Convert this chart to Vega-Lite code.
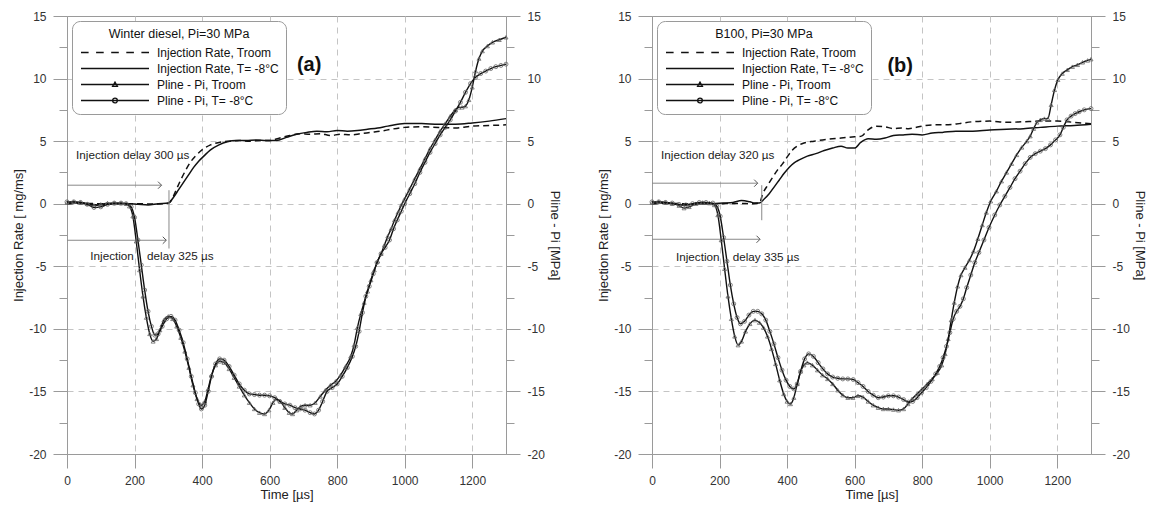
{
"$schema": "https://vega.github.io/schema/vega-lite/v6.json",
"background": "white",
"padding": {"left": 12, "top": 9, "right": 4, "bottom": 2},
"spacing": 36,
"config": {
  "view": {"stroke": "#9a9a9a"},
  "axis": {"domainColor": "#9a9a9a", "tickColor": "#9a9a9a", "gridColor": "#c4c4c4", "gridDash": [6, 5], "labelFont": "Liberation Sans", "labelFontSize": 12, "labelColor": "#333333", "titleFont": "Liberation Sans", "titleFontSize": 13, "titleFontWeight": "normal", "titleColor": "#222222", "labelPadding": 7, "titlePadding": 3, "labelFlush": false, "labelOverlap": false},
  "text": {"font": "Liberation Sans"}
},
"resolve": {"scale": {"shape": "independent"}, "legend": {"shape": "independent"}},
"datasets": {
  "leg": [{"s": "Injection Rate, Troom"}, {"s": "Injection Rate, T= -8°C"}, {"s": "Pline - Pi, Troom"}, {"s": "Pline - Pi, T= -8°C"}],
  "a_arr": [{"t": 0, "t2": 280, "v": 1.48}, {"t": 0, "t2": 294, "v": -2.92}],
  "a_vl": [{"t": 302, "v": 1.08, "v2": -3.58}],
  "a_txt": [{"t": 27, "v": 3.87, "label": "Injection delay 300 µs"}, {"t": 69, "v": -4.19, "label": "Injection"}, {"t": 237, "v": -4.19, "label": "delay 325 µs"}],
  "a_lab": [{"t": 717, "v": 11.06, "label": "(a)"}],
  "b_arr": [{"t": 0, "t2": 313, "v": 1.64}, {"t": 0, "t2": 320, "v": -2.84}],
  "b_vl": [{"t": 325, "v": 1.48, "v2": -1.32}],
  "b_txt": [{"t": 27, "v": 3.87, "label": "Injection delay 320 µs"}, {"t": 71, "v": -4.27, "label": "Injection"}, {"t": 239, "v": -4.27, "label": "delay 335 µs"}],
  "b_lab": [{"t": 735, "v": 11.0, "label": "(b)"}],
  "a_rr": [{"t":0,"v":0},{"t":50,"v":0.02},{"t":100,"v":0},{"t":150,"v":0},{"t":200,"v":0},{"t":250,"v":-0.02},{"t":290,"v":0},{"t":300,"v":0.05},{"t":310,"v":0.3},{"t":320,"v":0.9},{"t":335,"v":1.8},{"t":350,"v":2.6},{"t":365,"v":3.3},{"t":380,"v":3.8},{"t":400,"v":4.3},{"t":425,"v":4.7},{"t":450,"v":4.9},{"t":480,"v":5.0},{"t":510,"v":5.05},{"t":540,"v":5.0},{"t":570,"v":5.05},{"t":600,"v":5.05},{"t":630,"v":5.25},{"t":660,"v":5.45},{"t":690,"v":5.6},{"t":720,"v":5.55},{"t":750,"v":5.6},{"t":780,"v":5.45},{"t":810,"v":5.55},{"t":840,"v":5.5},{"t":870,"v":5.6},{"t":900,"v":5.7},{"t":930,"v":5.8},{"t":960,"v":5.95},{"t":1000,"v":6.1},{"t":1050,"v":6.15},{"t":1100,"v":6.1},{"t":1150,"v":6.05},{"t":1200,"v":6.2},{"t":1250,"v":6.25},{"t":1300,"v":6.3}],
  "a_rc": [{"t":0,"v":0},{"t":30,"v":0.05},{"t":60,"v":0},{"t":90,"v":-0.1},{"t":120,"v":-0.05},{"t":150,"v":0},{"t":180,"v":0},{"t":210,"v":-0.05},{"t":240,"v":-0.1},{"t":270,"v":0},{"t":300,"v":0.05},{"t":315,"v":0.5},{"t":330,"v":1.1},{"t":345,"v":1.7},{"t":360,"v":2.3},{"t":375,"v":2.9},{"t":390,"v":3.4},{"t":405,"v":3.8},{"t":425,"v":4.3},{"t":450,"v":4.7},{"t":475,"v":4.95},{"t":500,"v":5.05},{"t":530,"v":5.05},{"t":560,"v":5.1},{"t":590,"v":5.05},{"t":620,"v":5.05},{"t":650,"v":5.3},{"t":680,"v":5.55},{"t":710,"v":5.7},{"t":740,"v":5.8},{"t":770,"v":5.75},{"t":800,"v":5.85},{"t":830,"v":5.8},{"t":860,"v":5.85},{"t":890,"v":5.95},{"t":920,"v":6.05},{"t":950,"v":6.2},{"t":1000,"v":6.4},{"t":1050,"v":6.4},{"t":1100,"v":6.35},{"t":1150,"v":6.35},{"t":1200,"v":6.45},{"t":1250,"v":6.6},{"t":1300,"v":6.8}],
  "a_pr": [{"t":0,"v":0.1},{"t":20,"v":0.15},{"t":40,"v":0.1},{"t":60,"v":0.0},{"t":80,"v":-0.15},{"t":100,"v":-0.05},{"t":120,"v":0.05},{"t":140,"v":0.05},{"t":160,"v":0.05},{"t":175,"v":0.0},{"t":185,"v":-0.2},{"t":195,"v":-1.0},{"t":205,"v":-3.0},{"t":215,"v":-5.3},{"t":225,"v":-7.4},{"t":235,"v":-9.1},{"t":245,"v":-10.4},{"t":255,"v":-11.0},{"t":265,"v":-10.8},{"t":275,"v":-10.1},{"t":287,"v":-9.3},{"t":300,"v":-9.0},{"t":313,"v":-9.2},{"t":325,"v":-9.8},{"t":337,"v":-10.7},{"t":349,"v":-11.8},{"t":361,"v":-13.1},{"t":373,"v":-14.5},{"t":385,"v":-15.6},{"t":397,"v":-16.1},{"t":408,"v":-15.8},{"t":418,"v":-14.8},{"t":428,"v":-13.7},{"t":440,"v":-12.9},{"t":452,"v":-12.6},{"t":465,"v":-12.7},{"t":480,"v":-13.2},{"t":495,"v":-13.9},{"t":510,"v":-14.6},{"t":525,"v":-15.3},{"t":540,"v":-15.9},{"t":555,"v":-16.4},{"t":570,"v":-16.7},{"t":585,"v":-16.8},{"t":598,"v":-16.5},{"t":610,"v":-15.9},{"t":620,"v":-15.6},{"t":632,"v":-15.8},{"t":645,"v":-16.3},{"t":658,"v":-16.7},{"t":668,"v":-16.8},{"t":680,"v":-16.5},{"t":692,"v":-16.2},{"t":705,"v":-16.1},{"t":720,"v":-16.1},{"t":735,"v":-15.9},{"t":750,"v":-15.4},{"t":765,"v":-14.9},{"t":780,"v":-14.5},{"t":795,"v":-14.2},{"t":810,"v":-13.7},{"t":825,"v":-13.0},{"t":840,"v":-12.2},{"t":850,"v":-11.3},{"t":860,"v":-9.9},{"t":870,"v":-8.8},{"t":880,"v":-7.9},{"t":890,"v":-7.0},{"t":900,"v":-6.1},{"t":910,"v":-5.3},{"t":920,"v":-4.6},{"t":930,"v":-4.0},{"t":940,"v":-3.3},{"t":950,"v":-2.6},{"t":960,"v":-2.0},{"t":970,"v":-1.3},{"t":980,"v":-0.7},{"t":990,"v":-0.1},{"t":1000,"v":0.4},{"t":1015,"v":1.2},{"t":1030,"v":2.0},{"t":1045,"v":2.8},{"t":1060,"v":3.6},{"t":1075,"v":4.4},{"t":1090,"v":5.1},{"t":1105,"v":5.8},{"t":1120,"v":6.4},{"t":1135,"v":7.0},{"t":1150,"v":7.5},{"t":1160,"v":7.7},{"t":1170,"v":7.7},{"t":1180,"v":7.8},{"t":1190,"v":8.3},{"t":1200,"v":9.3},{"t":1210,"v":10.6},{"t":1220,"v":11.6},{"t":1230,"v":12.2},{"t":1245,"v":12.6},{"t":1260,"v":12.9},{"t":1280,"v":13.1},{"t":1300,"v":13.3}],
  "a_pc": [{"t":0,"v":0.15},{"t":20,"v":0.15},{"t":40,"v":0.1},{"t":60,"v":-0.05},{"t":80,"v":-0.3},{"t":100,"v":-0.25},{"t":120,"v":-0.05},{"t":140,"v":0.05},{"t":160,"v":0.05},{"t":175,"v":0.0},{"t":190,"v":-0.25},{"t":200,"v":-1.1},{"t":210,"v":-2.9},{"t":220,"v":-4.9},{"t":230,"v":-6.9},{"t":240,"v":-8.6},{"t":250,"v":-9.8},{"t":260,"v":-10.5},{"t":270,"v":-10.4},{"t":282,"v":-9.8},{"t":295,"v":-9.2},{"t":308,"v":-9.0},{"t":320,"v":-9.3},{"t":332,"v":-10.1},{"t":344,"v":-11.1},{"t":356,"v":-12.4},{"t":368,"v":-13.8},{"t":380,"v":-15.1},{"t":390,"v":-16.0},{"t":398,"v":-16.4},{"t":408,"v":-16.1},{"t":418,"v":-15.0},{"t":428,"v":-13.8},{"t":440,"v":-12.8},{"t":452,"v":-12.4},{"t":465,"v":-12.5},{"t":480,"v":-13.0},{"t":495,"v":-13.7},{"t":510,"v":-14.4},{"t":525,"v":-14.9},{"t":540,"v":-15.2},{"t":555,"v":-15.25},{"t":570,"v":-15.3},{"t":585,"v":-15.3},{"t":600,"v":-15.35},{"t":615,"v":-15.5},{"t":630,"v":-15.8},{"t":645,"v":-16.0},{"t":660,"v":-16.1},{"t":675,"v":-16.3},{"t":690,"v":-16.4},{"t":705,"v":-16.5},{"t":720,"v":-16.7},{"t":733,"v":-16.8},{"t":745,"v":-16.5},{"t":757,"v":-15.8},{"t":770,"v":-15.0},{"t":785,"v":-14.7},{"t":800,"v":-14.4},{"t":815,"v":-13.8},{"t":830,"v":-13.1},{"t":845,"v":-12.2},{"t":855,"v":-11.4},{"t":865,"v":-10.2},{"t":875,"v":-8.7},{"t":885,"v":-7.4},{"t":895,"v":-6.6},{"t":907,"v":-5.6},{"t":918,"v":-4.7},{"t":930,"v":-4.0},{"t":942,"v":-3.5},{"t":955,"v":-2.9},{"t":967,"v":-2.0},{"t":978,"v":-1.3},{"t":990,"v":-0.6},{"t":1000,"v":0.0},{"t":1015,"v":0.8},{"t":1030,"v":1.6},{"t":1045,"v":2.5},{"t":1060,"v":3.3},{"t":1075,"v":4.1},{"t":1090,"v":4.8},{"t":1105,"v":5.5},{"t":1120,"v":6.1},{"t":1135,"v":6.7},{"t":1150,"v":7.4},{"t":1165,"v":8.1},{"t":1180,"v":8.9},{"t":1195,"v":9.6},{"t":1210,"v":10.1},{"t":1225,"v":10.4},{"t":1240,"v":10.6},{"t":1255,"v":10.8},{"t":1270,"v":10.95},{"t":1285,"v":11.05},{"t":1300,"v":11.15}],
  "b_rr": [{"t":0,"v":0},{"t":50,"v":0.02},{"t":100,"v":0},{"t":150,"v":0},{"t":200,"v":0},{"t":250,"v":0.02},{"t":300,"v":0},{"t":318,"v":0.05},{"t":328,"v":0.8},{"t":343,"v":1.5},{"t":357,"v":2.1},{"t":372,"v":2.7},{"t":387,"v":3.2},{"t":402,"v":3.8},{"t":416,"v":4.3},{"t":430,"v":4.6},{"t":450,"v":4.85},{"t":480,"v":5.0},{"t":520,"v":5.15},{"t":560,"v":5.25},{"t":600,"v":5.35},{"t":620,"v":5.4},{"t":640,"v":5.9},{"t":665,"v":6.2},{"t":690,"v":6.15},{"t":715,"v":6.0},{"t":740,"v":6.05},{"t":760,"v":6.0},{"t":790,"v":6.15},{"t":830,"v":6.3},{"t":870,"v":6.3},{"t":910,"v":6.4},{"t":950,"v":6.55},{"t":1000,"v":6.6},{"t":1050,"v":6.5},{"t":1100,"v":6.55},{"t":1150,"v":6.6},{"t":1200,"v":6.6},{"t":1250,"v":6.5},{"t":1300,"v":6.4}],
  "b_rc": [{"t":0,"v":0},{"t":30,"v":0.05},{"t":60,"v":0},{"t":90,"v":-0.1},{"t":120,"v":-0.05},{"t":150,"v":0},{"t":180,"v":0},{"t":210,"v":0.05},{"t":240,"v":0.1},{"t":265,"v":0.25},{"t":290,"v":0.15},{"t":305,"v":0.05},{"t":318,"v":0.05},{"t":333,"v":0.4},{"t":347,"v":0.8},{"t":362,"v":1.35},{"t":377,"v":1.9},{"t":392,"v":2.45},{"t":406,"v":2.9},{"t":420,"v":3.25},{"t":436,"v":3.5},{"t":460,"v":3.8},{"t":485,"v":4.0},{"t":510,"v":4.25},{"t":535,"v":4.45},{"t":560,"v":4.6},{"t":580,"v":4.45},{"t":600,"v":4.45},{"t":618,"v":4.9},{"t":640,"v":5.2},{"t":665,"v":5.15},{"t":690,"v":5.25},{"t":715,"v":5.45},{"t":740,"v":5.5},{"t":770,"v":5.55},{"t":800,"v":5.5},{"t":830,"v":5.65},{"t":860,"v":5.7},{"t":900,"v":5.8},{"t":950,"v":5.8},{"t":1000,"v":5.9},{"t":1050,"v":5.95},{"t":1100,"v":6.0},{"t":1150,"v":6.1},{"t":1200,"v":6.2},{"t":1250,"v":6.25},{"t":1300,"v":6.35}],
  "b_pr": [{"t":0,"v":0.1},{"t":20,"v":0.15},{"t":40,"v":0.1},{"t":60,"v":0.0},{"t":80,"v":-0.15},{"t":95,"v":-0.35},{"t":110,"v":-0.25},{"t":130,"v":0.0},{"t":150,"v":0.1},{"t":170,"v":0.05},{"t":185,"v":-0.1},{"t":195,"v":-0.9},{"t":205,"v":-2.9},{"t":215,"v":-5.2},{"t":225,"v":-7.4},{"t":235,"v":-9.2},{"t":245,"v":-10.6},{"t":255,"v":-11.3},{"t":265,"v":-11.0},{"t":277,"v":-10.2},{"t":290,"v":-9.6},{"t":305,"v":-9.3},{"t":318,"v":-9.5},{"t":330,"v":-9.9},{"t":342,"v":-10.6},{"t":354,"v":-11.6},{"t":366,"v":-12.8},{"t":378,"v":-14.1},{"t":390,"v":-15.2},{"t":400,"v":-15.8},{"t":410,"v":-16.0},{"t":420,"v":-15.5},{"t":430,"v":-14.4},{"t":440,"v":-13.4},{"t":450,"v":-12.9},{"t":460,"v":-12.7},{"t":475,"v":-12.9},{"t":490,"v":-13.3},{"t":505,"v":-13.7},{"t":520,"v":-14.0},{"t":535,"v":-14.4},{"t":550,"v":-14.9},{"t":565,"v":-15.3},{"t":580,"v":-15.5},{"t":595,"v":-15.5},{"t":610,"v":-15.35},{"t":625,"v":-15.45},{"t":640,"v":-15.8},{"t":655,"v":-16.1},{"t":670,"v":-16.3},{"t":685,"v":-16.4},{"t":700,"v":-16.4},{"t":715,"v":-16.45},{"t":730,"v":-16.5},{"t":745,"v":-16.4},{"t":758,"v":-16.0},{"t":770,"v":-15.6},{"t":785,"v":-15.2},{"t":800,"v":-14.8},{"t":815,"v":-14.4},{"t":830,"v":-14.0},{"t":845,"v":-13.5},{"t":858,"v":-12.9},{"t":868,"v":-12.0},{"t":877,"v":-10.8},{"t":886,"v":-9.3},{"t":895,"v":-7.9},{"t":905,"v":-6.6},{"t":915,"v":-5.7},{"t":927,"v":-5.1},{"t":940,"v":-4.5},{"t":952,"v":-3.8},{"t":965,"v":-2.8},{"t":978,"v":-1.7},{"t":990,"v":-0.7},{"t":1003,"v":0.2},{"t":1020,"v":1.0},{"t":1035,"v":1.8},{"t":1050,"v":2.5},{"t":1065,"v":3.2},{"t":1080,"v":3.9},{"t":1095,"v":4.5},{"t":1110,"v":5.0},{"t":1120,"v":5.4},{"t":1130,"v":6.0},{"t":1140,"v":6.5},{"t":1150,"v":6.7},{"t":1162,"v":6.8},{"t":1172,"v":6.8},{"t":1182,"v":7.9},{"t":1192,"v":9.1},{"t":1202,"v":9.9},{"t":1215,"v":10.4},{"t":1230,"v":10.7},{"t":1245,"v":10.95},{"t":1260,"v":11.1},{"t":1275,"v":11.3},{"t":1290,"v":11.45},{"t":1300,"v":11.55}],
  "b_pc": [{"t":0,"v":0.15},{"t":20,"v":0.15},{"t":40,"v":0.1},{"t":60,"v":0.05},{"t":80,"v":-0.05},{"t":100,"v":-0.1},{"t":120,"v":0.0},{"t":140,"v":0.1},{"t":160,"v":0.1},{"t":180,"v":0.05},{"t":192,"v":-0.2},{"t":202,"v":-1.0},{"t":212,"v":-2.7},{"t":222,"v":-4.6},{"t":232,"v":-6.5},{"t":242,"v":-8.0},{"t":252,"v":-9.1},{"t":262,"v":-9.6},{"t":274,"v":-9.4},{"t":287,"v":-8.9},{"t":300,"v":-8.6},{"t":313,"v":-8.6},{"t":325,"v":-8.8},{"t":337,"v":-9.3},{"t":349,"v":-10.2},{"t":361,"v":-11.2},{"t":373,"v":-12.3},{"t":385,"v":-13.3},{"t":397,"v":-14.1},{"t":408,"v":-14.6},{"t":420,"v":-14.8},{"t":430,"v":-14.4},{"t":440,"v":-13.4},{"t":452,"v":-12.4},{"t":464,"v":-12.0},{"t":478,"v":-12.2},{"t":492,"v":-12.7},{"t":506,"v":-13.2},{"t":520,"v":-13.6},{"t":535,"v":-13.85},{"t":550,"v":-13.95},{"t":565,"v":-14.0},{"t":580,"v":-14.0},{"t":596,"v":-14.05},{"t":610,"v":-14.3},{"t":625,"v":-14.6},{"t":640,"v":-15.0},{"t":655,"v":-15.3},{"t":670,"v":-15.5},{"t":685,"v":-15.45},{"t":700,"v":-15.35},{"t":715,"v":-15.35},{"t":730,"v":-15.45},{"t":745,"v":-15.65},{"t":760,"v":-15.85},{"t":772,"v":-15.8},{"t":785,"v":-15.5},{"t":798,"v":-15.1},{"t":812,"v":-14.7},{"t":826,"v":-14.2},{"t":840,"v":-13.6},{"t":852,"v":-13.0},{"t":862,"v":-12.3},{"t":872,"v":-11.4},{"t":882,"v":-10.3},{"t":892,"v":-9.2},{"t":902,"v":-8.6},{"t":912,"v":-8.2},{"t":922,"v":-7.6},{"t":932,"v":-6.7},{"t":944,"v":-5.7},{"t":956,"v":-4.7},{"t":968,"v":-3.9},{"t":983,"v":-2.9},{"t":998,"v":-1.9},{"t":1015,"v":-0.9},{"t":1030,"v":-0.1},{"t":1045,"v":0.6},{"t":1060,"v":1.3},{"t":1075,"v":2.0},{"t":1090,"v":2.6},{"t":1105,"v":3.2},{"t":1120,"v":3.7},{"t":1135,"v":4.0},{"t":1150,"v":4.2},{"t":1165,"v":4.4},{"t":1180,"v":4.7},{"t":1195,"v":5.1},{"t":1208,"v":5.5},{"t":1218,"v":6.1},{"t":1229,"v":6.7},{"t":1241,"v":7.0},{"t":1253,"v":7.2},{"t":1265,"v":7.35},{"t":1280,"v":7.5},{"t":1300,"v":7.6}]
},
"hconcat": [
 {
  "width": 439, "height": 438,
  "resolve": {"scale": {"y": "independent"}},
  "layer": [
   {
    "encoding": {
      "x": {"field": "t", "type": "quantitative", "scale": {"domain": [0, 1300], "nice": false, "zero": false}, "axis": {"title": "Time [µs]", "values": [0,100,200,300,400,500,600,700,800,900,1000,1100,1200,1300], "labelExpr": "datum.value % 200 === 0 && datum.value < 1300 ? '' + datum.value : ''", "tickSize": {"condition": {"test": "datum.value % 200 === 0", "value": 14}, "value": 8}, "gridOpacity": {"condition": {"test": "datum.value % 200 === 0 && datum.value > 0", "value": 1}, "value": 0}, "titlePadding": 2}},
      "y": {"field": "v", "type": "quantitative", "scale": {"domain": [-20, 15], "nice": false, "zero": false}, "axis": {"title": "Injection Rate [ mg/ms]", "orient": "left", "values": [-20,-17.5,-15,-12.5,-10,-7.5,-5,-2.5,0,2.5,5,7.5,10,12.5,15], "labelExpr": "datum.value % 5 === 0 ? '' + datum.value : ''", "tickSize": {"condition": {"test": "datum.value % 5 === 0", "value": 14}, "value": 8}, "gridOpacity": {"condition": {"test": "datum.value % 5 === 0 && datum.value > -20 && datum.value < 15", "value": 1}, "value": 0}}}
    },
    "layer": [
     {"data": {"name": "a_rr"}, "mark": {"type": "line", "color": "#111111", "strokeWidth": 1.5, "strokeDash": [6, 4], "interpolate": "monotone"}},
     {"data": {"name": "a_rc"}, "mark": {"type": "line", "color": "#111111", "strokeWidth": 1.5, "interpolate": "monotone"}},
     {"data": {"name": "a_arr"}, "mark": {"type": "rule", "color": "#888888", "strokeWidth": 1}, "encoding": {"x2": {"field": "t2"}}},
     {"data": {"name": "a_arr"}, "mark": {"type": "point", "shape": "M-1,-1L0,0L-1,1", "size": 50, "filled": false, "color": "#555555", "strokeWidth": 1, "opacity": 1}, "encoding": {"x": {"field": "t2", "type": "quantitative"}}},
     {"data": {"name": "a_vl"}, "mark": {"type": "rule", "color": "#888888", "strokeWidth": 1}, "encoding": {"y2": {"field": "v2"}}},
     {"data": {"name": "a_txt"}, "mark": {"type": "text", "align": "left", "baseline": "middle", "fontSize": 11.7, "color": "#222222"}, "encoding": {"text": {"field": "label"}}},
     {"data": {"name": "a_lab"}, "mark": {"type": "text", "align": "center", "baseline": "middle", "fontSize": 20, "fontWeight": "bold", "color": "#111111"}, "encoding": {"text": {"field": "label"}}},
     {"data": {"name": "leg"}, "mark": {"type": "point", "opacity": 0}, "encoding": {"x": {"value": 0}, "y": {"value": 0}, "shape": {"field": "s", "type": "nominal", "scale": {"domain": ["Injection Rate, Troom", "Injection Rate, T= -8°C", "Pline - Pi, Troom", "Pline - Pi, T= -8°C"], "range": ["M0,0H1.9M3.775,0H5.675M7.55,0H9.45M11.325,0H13.225M15.1,0H17", "M0,0H17", "M0,0H17M8.5,-0.6L9.1,0.45L7.9,0.45Z", "M0,0H17M9.1,0A0.6,0.6,0,1,1,7.9,0A0.6,0.6,0,1,1,9.1,0Z"]}, "legend": {"title": "Winter diesel, Pi=30 MPa", "orient": "top-left", "offset": 5, "padding": 7, "cornerRadius": 8, "strokeColor": "#9a9a9a", "fillColor": "white", "titleAnchor": "middle", "titleFont": "Liberation Sans", "titleFontSize": 12.5, "titleFontWeight": "normal", "titleColor": "#111111", "titlePadding": 6, "labelFont": "Liberation Sans", "labelFontSize": 12, "labelColor": "#111111", "symbolSize": 64, "symbolStrokeWidth": 1.3, "symbolStrokeColor": "#111111", "symbolFillColor": "white", "symbolOpacity": 1, "symbolOffset": -4, "labelOffset": 70, "rowPadding": 4}}}}
    ]
   },
   {
    "encoding": {
      "x": {"field": "t", "type": "quantitative"},
      "y": {"field": "v", "type": "quantitative", "scale": {"domain": [-20, 15], "nice": false, "zero": false}, "axis": {"title": "Pline - Pi [MPa]", "orient": "right", "grid": false, "values": [-20,-17.5,-15,-12.5,-10,-7.5,-5,-2.5,0,2.5,5,7.5,10,12.5,15], "labelExpr": "datum.value % 5 === 0 ? '' + datum.value : ''", "tickSize": {"condition": {"test": "datum.value % 5 === 0", "value": 14}, "value": 8}}}
    },
    "layer": [
     {"data": {"name": "a_pr"}, "mark": {"type": "line", "color": "#111111", "strokeWidth": 1.4, "interpolate": "monotone"}},
     {"data": {"name": "a_pr"}, "mark": {"type": "point", "shape": "triangle-up", "size": 16, "filled": false, "color": "#666666", "strokeWidth": 0.8, "opacity": 1}},
     {"data": {"name": "a_pc"}, "mark": {"type": "line", "color": "#111111", "strokeWidth": 1.4, "interpolate": "monotone"}},
     {"data": {"name": "a_pc"}, "mark": {"type": "point", "shape": "circle", "size": 16, "filled": false, "color": "#666666", "strokeWidth": 0.8, "opacity": 1}}
    ]
   }
  ]
 },
 {
  "width": 439, "height": 438,
  "resolve": {"scale": {"y": "independent"}},
  "layer": [
   {
    "encoding": {
      "x": {"field": "t", "type": "quantitative", "scale": {"domain": [0, 1300], "nice": false, "zero": false}, "axis": {"title": "Time [µs]", "values": [0,100,200,300,400,500,600,700,800,900,1000,1100,1200,1300], "labelExpr": "datum.value % 200 === 0 && datum.value < 1300 ? '' + datum.value : ''", "tickSize": {"condition": {"test": "datum.value % 200 === 0", "value": 14}, "value": 8}, "gridOpacity": {"condition": {"test": "datum.value % 200 === 0 && datum.value > 0", "value": 1}, "value": 0}, "titlePadding": 2}},
      "y": {"field": "v", "type": "quantitative", "scale": {"domain": [-20, 15], "nice": false, "zero": false}, "axis": {"title": "Injection Rate [ mg/ms]", "orient": "left", "values": [-20,-17.5,-15,-12.5,-10,-7.5,-5,-2.5,0,2.5,5,7.5,10,12.5,15], "labelExpr": "datum.value % 5 === 0 ? '' + datum.value : ''", "tickSize": {"condition": {"test": "datum.value % 5 === 0", "value": 14}, "value": 8}, "gridOpacity": {"condition": {"test": "datum.value % 5 === 0 && datum.value > -20 && datum.value < 15", "value": 1}, "value": 0}}}
    },
    "layer": [
     {"data": {"name": "b_rr"}, "mark": {"type": "line", "color": "#111111", "strokeWidth": 1.5, "strokeDash": [6, 4], "interpolate": "monotone"}},
     {"data": {"name": "b_rc"}, "mark": {"type": "line", "color": "#111111", "strokeWidth": 1.5, "interpolate": "monotone"}},
     {"data": {"name": "b_arr"}, "mark": {"type": "rule", "color": "#888888", "strokeWidth": 1}, "encoding": {"x2": {"field": "t2"}}},
     {"data": {"name": "b_arr"}, "mark": {"type": "point", "shape": "M-1,-1L0,0L-1,1", "size": 50, "filled": false, "color": "#555555", "strokeWidth": 1, "opacity": 1}, "encoding": {"x": {"field": "t2", "type": "quantitative"}}},
     {"data": {"name": "b_vl"}, "mark": {"type": "rule", "color": "#888888", "strokeWidth": 1}, "encoding": {"y2": {"field": "v2"}}},
     {"data": {"name": "b_txt"}, "mark": {"type": "text", "align": "left", "baseline": "middle", "fontSize": 11.7, "color": "#222222"}, "encoding": {"text": {"field": "label"}}},
     {"data": {"name": "b_lab"}, "mark": {"type": "text", "align": "center", "baseline": "middle", "fontSize": 20, "fontWeight": "bold", "color": "#111111"}, "encoding": {"text": {"field": "label"}}},
     {"data": {"name": "leg"}, "mark": {"type": "point", "opacity": 0}, "encoding": {"x": {"value": 0}, "y": {"value": 0}, "shape": {"field": "s", "type": "nominal", "scale": {"domain": ["Injection Rate, Troom", "Injection Rate, T= -8°C", "Pline - Pi, Troom", "Pline - Pi, T= -8°C"], "range": ["M0,0H1.9M3.775,0H5.675M7.55,0H9.45M11.325,0H13.225M15.1,0H17", "M0,0H17", "M0,0H17M8.5,-0.6L9.1,0.45L7.9,0.45Z", "M0,0H17M9.1,0A0.6,0.6,0,1,1,7.9,0A0.6,0.6,0,1,1,9.1,0Z"]}, "legend": {"title": "B100, Pi=30 MPa", "orient": "top-left", "offset": 5, "padding": 7, "cornerRadius": 8, "strokeColor": "#9a9a9a", "fillColor": "white", "titleAnchor": "middle", "titleFont": "Liberation Sans", "titleFontSize": 12.5, "titleFontWeight": "normal", "titleColor": "#111111", "titlePadding": 6, "labelFont": "Liberation Sans", "labelFontSize": 12, "labelColor": "#111111", "symbolSize": 64, "symbolStrokeWidth": 1.3, "symbolStrokeColor": "#111111", "symbolFillColor": "white", "symbolOpacity": 1, "symbolOffset": -4, "labelOffset": 70, "rowPadding": 4}}}}
    ]
   },
   {
    "encoding": {
      "x": {"field": "t", "type": "quantitative"},
      "y": {"field": "v", "type": "quantitative", "scale": {"domain": [-20, 15], "nice": false, "zero": false}, "axis": {"title": "Pline - Pi [MPa]", "orient": "right", "grid": false, "values": [-20,-17.5,-15,-12.5,-10,-7.5,-5,-2.5,0,2.5,5,7.5,10,12.5,15], "labelExpr": "datum.value % 5 === 0 ? '' + datum.value : ''", "tickSize": {"condition": {"test": "datum.value % 5 === 0", "value": 14}, "value": 8}}}
    },
    "layer": [
     {"data": {"name": "b_pr"}, "mark": {"type": "line", "color": "#111111", "strokeWidth": 1.4, "interpolate": "monotone"}},
     {"data": {"name": "b_pr"}, "mark": {"type": "point", "shape": "triangle-up", "size": 16, "filled": false, "color": "#666666", "strokeWidth": 0.8, "opacity": 1}},
     {"data": {"name": "b_pc"}, "mark": {"type": "line", "color": "#111111", "strokeWidth": 1.4, "interpolate": "monotone"}},
     {"data": {"name": "b_pc"}, "mark": {"type": "point", "shape": "circle", "size": 16, "filled": false, "color": "#666666", "strokeWidth": 0.8, "opacity": 1}}
    ]
   }
  ]
 }
]
}
